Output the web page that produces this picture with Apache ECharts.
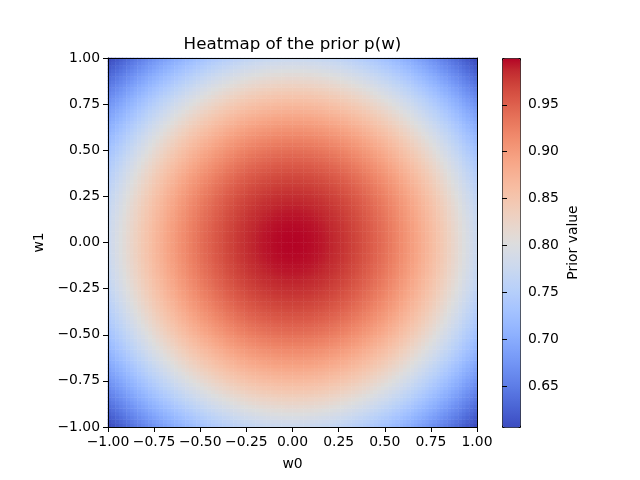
<!DOCTYPE html>
<html>
<head>
<meta charset="utf-8">
<script src="https://cdn.jsdelivr.net/npm/echarts@6/dist/echarts.min.js"></script>
<style>
    html, body { margin: 0; padding: 0; background: #fff; }
    #chart { width: 640px; height: 480px; }
</style>
</head>
<body>
<div id="chart"></div>
<script>
// 半边剖面：w = 1/99, 3/99, ... , 1 处 (w1 = 0 那一行) 读出的 prior 值
var profile = [
    0.99997, 0.99977, 0.99936, 0.99875, 0.99794, 0.99692, 0.99570, 0.99428, 0.99266, 0.99083,
    0.98881, 0.98660, 0.98418, 0.98158, 0.97878, 0.97579, 0.97261, 0.96924, 0.96568, 0.96195,
    0.95803, 0.95393, 0.94966, 0.94521, 0.94060, 0.93581, 0.93086, 0.92574, 0.92047, 0.91504,
    0.90946, 0.90372, 0.89784, 0.89181, 0.88565, 0.87934, 0.87291, 0.86634, 0.85965, 0.85283,
    0.84590, 0.83885, 0.83169, 0.82443, 0.81706, 0.80959, 0.80203, 0.79438, 0.78663, 0.77880
];
// 坐标轴刻度
var axisTicks = [-1.0, -0.75, -0.5, -0.25, 0.0, 0.25, 0.5, 0.75, 1.0];
var colorbarTicks = [0.65, 0.70, 0.75, 0.80, 0.85, 0.90, 0.95];
var valueMin = 0.60653;
var valueMax = 0.99995;
// coolwarm 颜色表
var coolwarm = [
    "#3b4cc0", "#445acc", "#4d68d7", "#5775e1", "#6282ea", "#6c8ef1", "#779af7", "#82a5fb",
    "#8db0fe", "#98b9ff", "#a3c2ff", "#aec9fd", "#b8d0f9", "#c2d5f4", "#ccd9ee", "#d5dbe6",
    "#dddddd", "#e5d8d1", "#ecd3c5", "#f1ccb8", "#f5c4ac", "#f7bba0", "#f7b194", "#f7a687",
    "#f49a7b", "#f18d6f", "#ec7f63", "#e57058", "#de604d", "#d55042", "#cb3e38", "#c0282f",
    "#b40426"
];

// 完整的一行：从 w = -1 到 w = 1，共 100 格
var rowValues = profile.slice().reverse().concat(profile);
var cellIndex = rowValues.map(function (v, i) { return i; });
var heatData = [];
for (var i = 0; i < rowValues.length; i++) {
    for (var j = 0; j < rowValues.length; j++) {
        heatData.push([i, j, rowValues[i] * rowValues[j]]);
    }
}

var font = "DejaVu Sans";
function fmt(v) {
    return v.toFixed(2).replace("-", "\u2212");
}

var myChart = echarts.init(document.getElementById("chart"));
var option = {
    animation: false,
    textStyle: { fontFamily: font },
    title: {
        text: "Heatmap of the prior p(w)",
        left: 292.5,
        textAlign: "center",
        top: 36,
        padding: 0,
        textStyle: { fontFamily: font, fontSize: 16.7, fontWeight: "normal", color: "#000" },
    },
    grid: [
        // 主图
        { left: 108, top: 58, width: 369, height: 369 },
        // 颜色条
        { left: 502, top: 58, width: 18, height: 369 },
    ],
    xAxis: [
        {
            type: "category",
            gridIndex: 0,
            data: cellIndex,
            position: "top",
            z: 10,
            axisLine: { show: true, onZero: false, lineStyle: { color: "#000", width: 1 } },
            axisTick: { show: false },
            axisLabel: { show: false },
            splitLine: { show: false },
        },
        {
            type: "value",
            gridIndex: 0,
            position: "bottom",
            z: 10,
            min: -1,
            max: 1,
            interval: 0.25,
            name: "w0",
            nameLocation: "middle",
            nameGap: 30,
            nameTextStyle: { fontFamily: font, fontSize: 13.9, color: "#000" },
            axisLine: { show: true, onZero: false, lineStyle: { color: "#000", width: 1 } },
            axisTick: { show: true, inside: false, length: 5, lineStyle: { color: "#000" } },
            axisLabel: {
                margin: 8,
                color: "#000",
                fontFamily: font,
                fontSize: 13.9,
                showMinLabel: true,
                showMaxLabel: true,
                formatter: fmt,
            },
            splitLine: { show: false },
        },
        {
            type: "value",
            gridIndex: 1,
            show: false,
        },
    ],
    yAxis: [
        {
            type: "category",
            gridIndex: 0,
            data: cellIndex,
            position: "right",
            z: 10,
            axisLine: { show: true, onZero: false, lineStyle: { color: "#000", width: 1 } },
            axisTick: { show: false },
            axisLabel: { show: false },
            splitLine: { show: false },
        },
        {
            type: "value",
            gridIndex: 0,
            position: "left",
            z: 10,
            min: -1,
            max: 1,
            interval: 0.25,
            name: "w1",
            nameLocation: "middle",
            nameGap: 55,
            nameRotate: 90,
            nameTextStyle: { fontFamily: font, fontSize: 13.9, color: "#000" },
            axisLine: { show: true, onZero: false, lineStyle: { color: "#000", width: 1 } },
            axisTick: { show: true, inside: false, length: 5, lineStyle: { color: "#000" } },
            axisLabel: {
                margin: 8,
                color: "#000",
                fontFamily: font,
                fontSize: 13.9,
                showMinLabel: true,
                showMaxLabel: true,
                formatter: fmt,
            },
            splitLine: { show: false },
        },
        {
            type: "value",
            gridIndex: 1,
            position: "right",
            z: 10,
            min: valueMin,
            max: valueMax,
            name: "Prior value",
            nameLocation: "middle",
            nameGap: 46,
            nameRotate: 90,
            nameTextStyle: { fontFamily: font, fontSize: 13.9, color: "#000" },
            axisLine: { show: false },
            axisTick: {
                show: true,
                inside: false,
                length: 5,
                customValues: colorbarTicks,
                lineStyle: { color: "#000" },
            },
            axisLabel: {
                margin: 8,
                color: "#000",
                fontFamily: font,
                fontSize: 13.9,
                customValues: colorbarTicks,
                formatter: function (v) { return v.toFixed(2); },
            },
            splitLine: { show: false },
        },
    ],
    visualMap: {
        type: "continuous",
        seriesIndex: 0,
        min: valueMin,
        max: valueMax,
        calculable: false,
        hoverLink: false,
        orient: "vertical",
        left: 502,
        top: 58,
        itemWidth: 18,
        itemHeight: 369,
        padding: 0,
        borderColor: "#000",
        borderWidth: 1,
        text: null,
        showLabel: false,
        inRange: { color: coolwarm },
    },
    series: [
        {
            type: "heatmap",
            xAxisIndex: 0,
            yAxisIndex: 0,
            data: heatData,
            progressive: 0,
            emphasis: { disabled: true },
            itemStyle: { borderWidth: 0 },
        },
    ],
};
myChart.setOption(option);
window.addEventListener("resize", function () {
    myChart.resize();
});
</script>
</body>
</html>
